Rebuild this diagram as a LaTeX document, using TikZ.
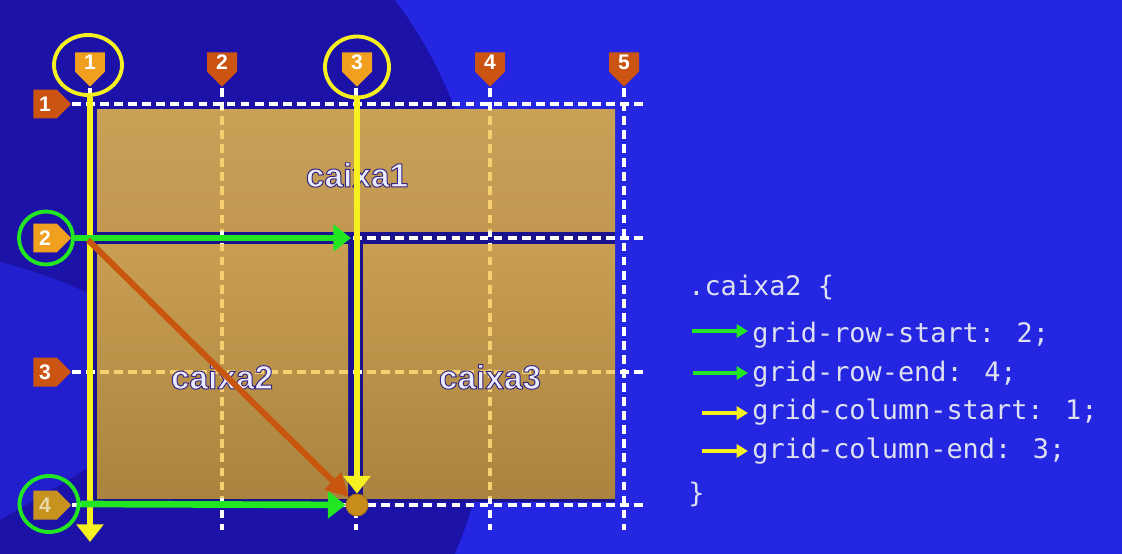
\documentclass[tikz,border=0pt]{standalone}
\usepackage{fontspec}
\setmainfont{Liberation Sans}
\newfontfamily\codefont{DejaVu Sans Mono}
\usepackage{tikz}
\usetikzlibrary{arrows.meta,positioning,shapes.symbols,shapes.geometric}
\definecolor{bgdark}{RGB}{28,18,168}
\definecolor{bgbright}{RGB}{36,38,226}
\definecolor{bglens}{RGB}{34,32,206}
\definecolor{gapnavy}{RGB}{26,18,140}
\definecolor{boxatop}{RGB}{200,160,86}
\definecolor{boxabot}{RGB}{194,152,80}
\definecolor{boxbtop}{RGB}{200,158,82}
\definecolor{boxbbot}{RGB}{170,132,62}
\definecolor{paleyel}{RGB}{246,208,112}
\definecolor{mkgold}{RGB}{240,160,30}
\definecolor{mkrust}{RGB}{204,84,18}
\definecolor{mkochre}{RGB}{200,146,30}
\definecolor{mkpale}{RGB}{232,216,168}
\definecolor{hiyellow}{RGB}{246,240,32}
\definecolor{higreen}{RGB}{34,230,34}
\definecolor{diagorange}{RGB}{200,86,14}
\definecolor{dotfill}{RGB}{200,140,26}
\definecolor{codetext}{RGB}{221,224,240}
% outlined text: fill in the text colour, stroke in navy
\newcommand{\outlined}[1]{\special{pdf:literal direct 2 Tr 0.55 w 1 j 0.2 0.14 0.52 RG}#1\special{pdf:literal direct 0 Tr}}
\tikzset{
  gridline/.style={draw=white, line width=2.6pt, dash pattern=on 5pt off 3pt},
  colmark/.style={signal, signal to=south, inner sep=0pt, minimum width=0.6cm, minimum height=0.5cm, text=white, font=\fontsize{12}{12}\selectfont\bfseries},
  rowmark/.style={signal, signal to=east, inner sep=0pt, minimum width=0.76cm, minimum height=0.58cm, text=white, font=\fontsize{12}{12}\selectfont\bfseries},
  ring/.style={ellipse, draw, line width=2.2pt, inner sep=0pt},
  boxlabel/.style={text=white!92!blue, font=\fontsize{19}{19}\selectfont\bfseries},
  codeline/.style={anchor=base west, inner sep=0pt, text=codetext, font=\codefont\fontsize{15.3}{18}\selectfont},
  bigarrow/.style={line width=3.4pt, -{Triangle[length=10pt, width=15pt]}},
  codearrow/.style={line width=1.8pt, -{Triangle[length=6.5pt, width=7.5pt]}, shorten >=2.3pt}
}
\begin{document}
\begin{tikzpicture}[x=0.02cm, y=-0.02cm]
  % background
  \fill[bgdark] (0,0) rectangle (1122,554);
  \fill[bgbright] (395,0) .. controls (480,110) and (545,340) .. (455,554) -- (1122,554) -- (1122,0) -- cycle;
  \fill[bglens] (0,262) .. controls (110,290) and (200,350) .. (165,400) .. controls (130,450) and (50,490) .. (0,520) -- cycle;
  \useasboundingbox (0,0) rectangle (1122,554);

  % grid areas
  \fill[gapnavy] (91,231) rectangle (615,502);
  \shade[top color=boxatop, bottom color=boxabot] (97,110) rectangle (615,231);
  \shade[top color=boxbtop, bottom color=boxbbot] (97,244) rectangle (348,498);
  \shade[top color=boxbtop, bottom color=boxbbot] (363,244) rectangle (615,498);

  % grid lines
  \foreach \y in {104,238,372,505}
    \draw[gridline] (72,\y) -- (645,\y);
  \foreach \x in {90,222,356,490,624}
    \draw[gridline] (\x,88) -- (\x,530);
  \begin{scope}
    \clip (97,110) rectangle (615,231) (97,244) rectangle (348,498) (363,244) rectangle (615,498);
    \foreach \y in {104,238,372,505}
      \draw[gridline, draw=paleyel] (72,\y) -- (645,\y);
    \foreach \x in {90,222,356,490,624}
      \draw[gridline, draw=paleyel] (\x,88) -- (\x,530);
  \end{scope}

  \node[boxlabel] (lbl1) at (357,175) {\outlined{caixa1}};
  \node[boxlabel] (lbl2) at (222,377) {\outlined{caixa2}};
  \node[boxlabel] (lbl3) at (490,377) {\outlined{caixa3}};

  % line numbers
  \foreach \x/\n/\c in {90/1/mkgold, 222/2/mkrust, 357/3/mkgold, 490/4/mkrust, 624/5/mkrust}
    \node[colmark, fill=\c] (col\n) at (\x,62) {\n};
  \foreach \y/\n/\c/\t in {104/1/mkrust/white, 238/2/mkgold/white, 372/3/mkrust/white, 505/4/mkochre/mkpale}
    \node[rowmark, fill=\c, text=\t] (row\n) at (45,\y) {\n};

  \node[ring, draw=hiyellow, minimum width=1.36cm, minimum height=1.2cm] (ring1) at (88,65) {};
  \node[ring, draw=hiyellow, minimum width=1.28cm, minimum height=1.22cm] (ring3) at (357,67) {};
  \node[ring, draw=higreen, minimum width=1.08cm, minimum height=1.06cm] (ring2) at (46,238) {};
  \node[ring, draw=higreen, minimum width=1.18cm, minimum height=1.12cm] (ring4) at (49,504) {};

  % caixa2 placement
  \node[circle, fill=dotfill, draw=dotfill!80!black, line width=0.5pt, minimum size=0.44cm, inner sep=0pt] (dot) at (357,505) {};
  \coordinate (c1end) at (90,542);
  \coordinate (r2end) at (351,238);
  \coordinate (dstart) at (88,240);
  \draw[bigarrow, hiyellow] (ring1.south -| c1end) -- (c1end);
  \draw[bigarrow, hiyellow] (ring3.south) -- (dot);
  \draw[bigarrow, higreen, line width=3.8pt] (ring2.east) -- (r2end);
  \draw[bigarrow, higreen, line width=3.8pt] (ring4.east) -- (dot);
  \draw[bigarrow, diagorange, -{Triangle[length=13pt, width=13pt]}] (dstart) -- (dot);

  % css rule
  \node[codeline] (sel) at (688,295) {.caixa2 \{};
  \node[codeline] (rs) at (752,342) {grid-row-start: 2;};
  \node[codeline] (re) at (752,381) {grid-row-end: 4;};
  \node[codeline] (cs) at (752,419) {grid-column-start: 1;};
  \node[codeline] (ce) at (752,458) {grid-column-end: 3;};
  \node[codeline] (close) at (688,502) {\}};
  \coordinate (ga1) at (692,331);
  \coordinate (ga2) at (693,373);
  \coordinate (ya1) at (702,413);
  \coordinate (ya2) at (702,451);
  \draw[codearrow, higreen] (ga1) -- (ga1 -| rs.west);
  \draw[codearrow, higreen] (ga2) -- (ga2 -| re.west);
  \draw[codearrow, hiyellow] (ya1) -- (ya1 -| cs.west);
  \draw[codearrow, hiyellow] (ya2) -- (ya2 -| ce.west);
\end{tikzpicture}
\end{document}
